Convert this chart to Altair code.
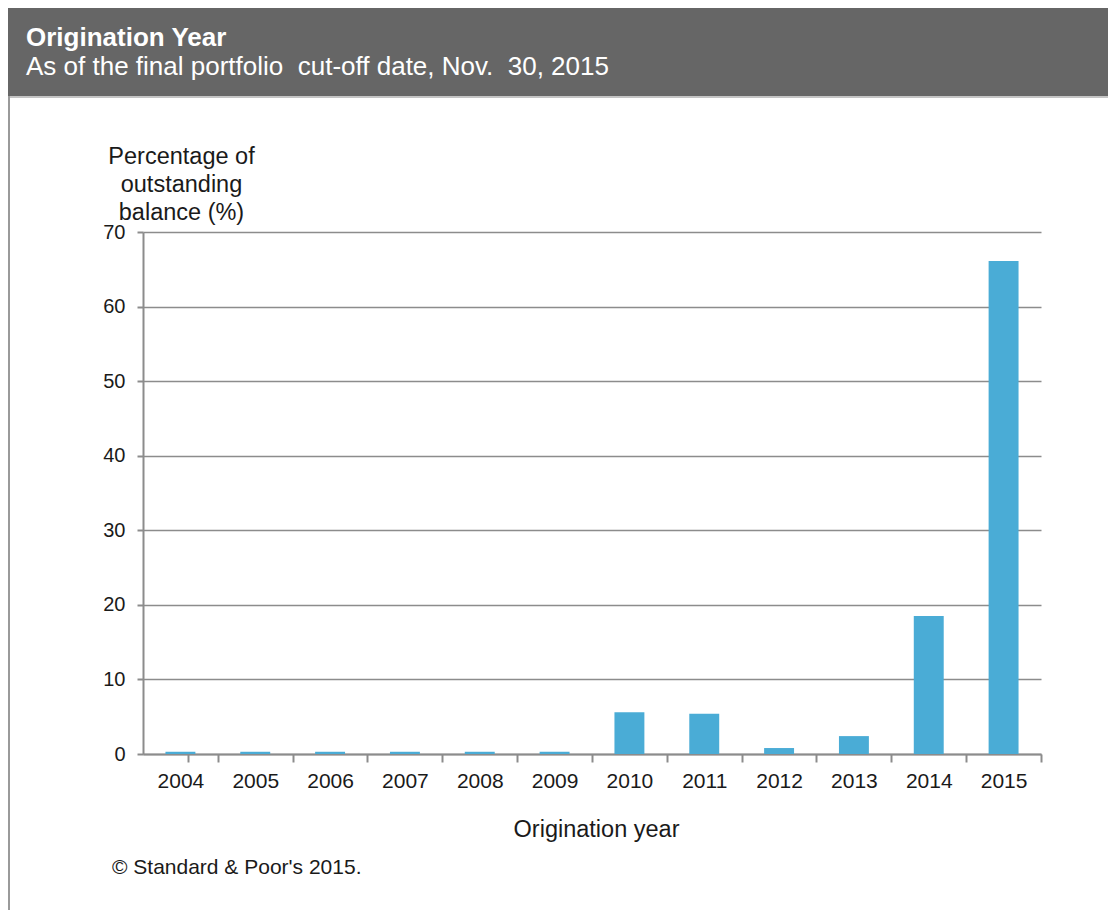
import altair as alt
import pandas as pd

years = ["2004", "2005", "2006", "2007", "2008", "2009",
         "2010", "2011", "2012", "2013", "2014", "2015"]
shares = [0.3, 0.3, 0.3, 0.3, 0.3, 0.3, 5.6, 5.4, 0.8, 2.4, 18.5, 66.1]

title_text = "Origination Year"
subtitle_text = "As of the final portfolio \u00a0cut-off date, Nov. \u00a030, 2015"
y_title_lines = ["Percentage of", "outstanding", "balance (%)"]
x_title_text = "Origination year"
footer_text = "\u00a9 Standard & Poor's 2015."
y_ticks = [0, 10, 20, 30, 40, 50, 60, 70]

FONT = "Liberation Sans"
W, H = 898, 522
PAD_L, PAD_T, PAD_R, PAD_B = 135, 224, 67, 156
P_IN, P_OUT = 0.6, 0.3
STEP = W / (len(years) - P_IN + 2 * P_OUT)

df = pd.DataFrame({"year": years, "share": shares})
one = pd.DataFrame({"k": [0]})

bars = alt.Chart(df).mark_bar(color="#4aacd6").encode(
    x=alt.X("year:N", sort=years,
            scale=alt.Scale(paddingInner=P_IN, paddingOuter=P_OUT),
            axis=alt.Axis(title=x_title_text, labelAngle=0,
                          bandPosition=1, tickOffset=P_OUT * STEP, tickExtra=True,
                          labelOffset=-(P_OUT * STEP),
                          labelFont=FONT, labelFontSize=21, labelColor="#1a1a1a",
                          labelPadding=8, tickSize=8, tickColor="#8c8c8c", tickWidth=2,
                          domainColor="#8c8c8c", domainWidth=2,
                          titleFont=FONT, titleFontSize=23.5, titleFontWeight="normal",
                          titleColor="#1a1a1a", titlePadding=26, titleX=453,
                          titleAlign="center", grid=False)),
    y=alt.Y("share:Q",
            scale=alt.Scale(domain=[0, 70], nice=False),
            axis=alt.Axis(values=y_ticks, title=y_title_lines, titleAngle=0,
                          titleAlign="center", titleBaseline="alphabetic",
                          titleX=38, titleY=-69, titleLineHeight=28,
                          titleFont=FONT, titleFontSize=23.5, titleFontWeight="normal",
                          titleColor="#1a1a1a",
                          labelFont=FONT, labelFontSize=20, labelColor="#1a1a1a",
                          labelPadding=12, tickSize=6, tickColor="#8c8c8c", tickWidth=2,
                          domainColor="#8c8c8c", domainWidth=2,
                          grid=True, gridColor="#8c8c8c", gridWidth=1.5)),
)

header = alt.Chart(one).mark_rect(color="#666666").encode(
    x=alt.value(-PAD_L), x2=alt.value(W + PAD_R),
    y=alt.value(-PAD_T), y2=alt.value(-136),
)
header_line = alt.Chart(one).mark_rule(color="#c4c4c4", strokeWidth=2).encode(
    x=alt.value(-PAD_L), x2=alt.value(W + PAD_R), y=alt.value(-135),
)
left_border = alt.Chart(one).mark_rule(color="#9a9a9a", strokeWidth=2).encode(
    x=alt.value(-PAD_L + 1), y=alt.value(-136), y2=alt.value(H + PAD_B),
)
title = alt.Chart(one).mark_text(
    text=title_text, font=FONT, fontSize=26, fontWeight="bold", color="white",
    align="left", baseline="alphabetic",
).encode(x=alt.value(-117), y=alt.value(-186))
subtitle = alt.Chart(one).mark_text(
    text=subtitle_text, font=FONT, fontSize=26, color="white",
    align="left", baseline="alphabetic",
).encode(x=alt.value(-117), y=alt.value(-157))
footer = alt.Chart(one).mark_text(
    text=footer_text, font=FONT, fontSize=21, color="#1a1a1a",
    align="left", baseline="alphabetic",
).encode(x=alt.value(-31), y=alt.value(642))

chart = alt.layer(header, header_line, left_border, bars, title, subtitle, footer).properties(
    width=W, height=H,
    autosize=alt.AutoSizeParams(type="none"),
    padding={"left": PAD_L, "top": PAD_T, "right": PAD_R, "bottom": PAD_B},
    background="white",
).configure_view(stroke=None)

chart.save("out.html", embed_options={"renderer": "svg", "actions": False})
